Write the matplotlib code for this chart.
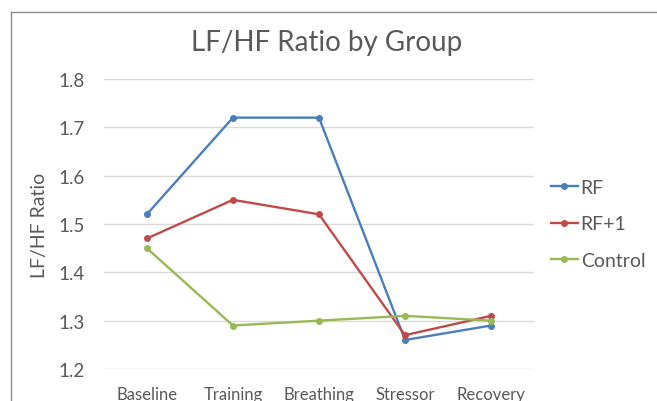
import matplotlib
matplotlib.use("Agg")
import matplotlib.pyplot as plt
from matplotlib.lines import Line2D

# ====================== DATA ======================
phases = ["Baseline", "Training", "Breathing", "Stressor", "Recovery"]
rf = [1.52, 1.72, 1.72, 1.26, 1.29]
rf_plus1 = [1.47, 1.55, 1.52, 1.27, 1.31]
control = [1.45, 1.29, 1.30, 1.31, 1.30]
yticks = [1.2, 1.3, 1.4, 1.5, 1.6, 1.7, 1.8]
# ==================================================

plt.rcParams['font.family'] = ['Lato', 'DejaVu Sans']
TXT = "#595959"

fig = plt.figure(figsize=(6.57, 4.02), dpi=100)
ax = fig.add_axes([0.158, 0.0796, 0.655, 0.7214])

x = range(len(phases))
ax.plot(x, rf, color="#4A7EBB", lw=1.7, marker="o", ms=4, label="RF")
ax.plot(x, rf_plus1, color="#BE4B48", lw=1.7, marker="o", ms=4, label="RF+1")
ax.plot(x, control, color="#98B954", lw=1.7, marker="o", ms=4, label="Control")

ax.set_xlim(-0.5, len(phases) - 0.5)
ax.set_ylim(1.2, 1.8)
ax.set_yticks(yticks)
ax.set_yticklabels([f"{v:.1f}" for v in yticks], fontsize=13.5, color=TXT)
ax.set_xticks(list(x))
ax.set_xticklabels(phases, fontsize=12, color=TXT)
ax.tick_params(axis="both", length=0)
ax.tick_params(axis="y", pad=14)
ax.tick_params(axis="x", pad=12)
ax.grid(axis="y", color="#D9D9D9", lw=1)
ax.set_axisbelow(True)
for s in ax.spines.values():
    s.set_visible(False)

ax.set_ylabel("LF/HF Ratio", fontsize=14, color=TXT, labelpad=7)
fig.text(0.497, 0.893, "LF/HF Ratio by Group", fontsize=20, color=TXT,
         ha="center", va="center")

ax.legend(loc="center left", bbox_to_anchor=(1.02, 0.5), frameon=False,
          fontsize=14, labelcolor=TXT, handlelength=1.4, handletextpad=0.15,
          labelspacing=1.0, borderaxespad=0)

# chart border (cropped frame)
fig.add_artist(Line2D([0.016, 0.016], [0, 0.968], color="#8C8C8C", lw=1))
fig.add_artist(Line2D([0.016, 1.0], [0.968, 0.968], color="#8C8C8C", lw=1))

fig.savefig("out.png", dpi=100)
